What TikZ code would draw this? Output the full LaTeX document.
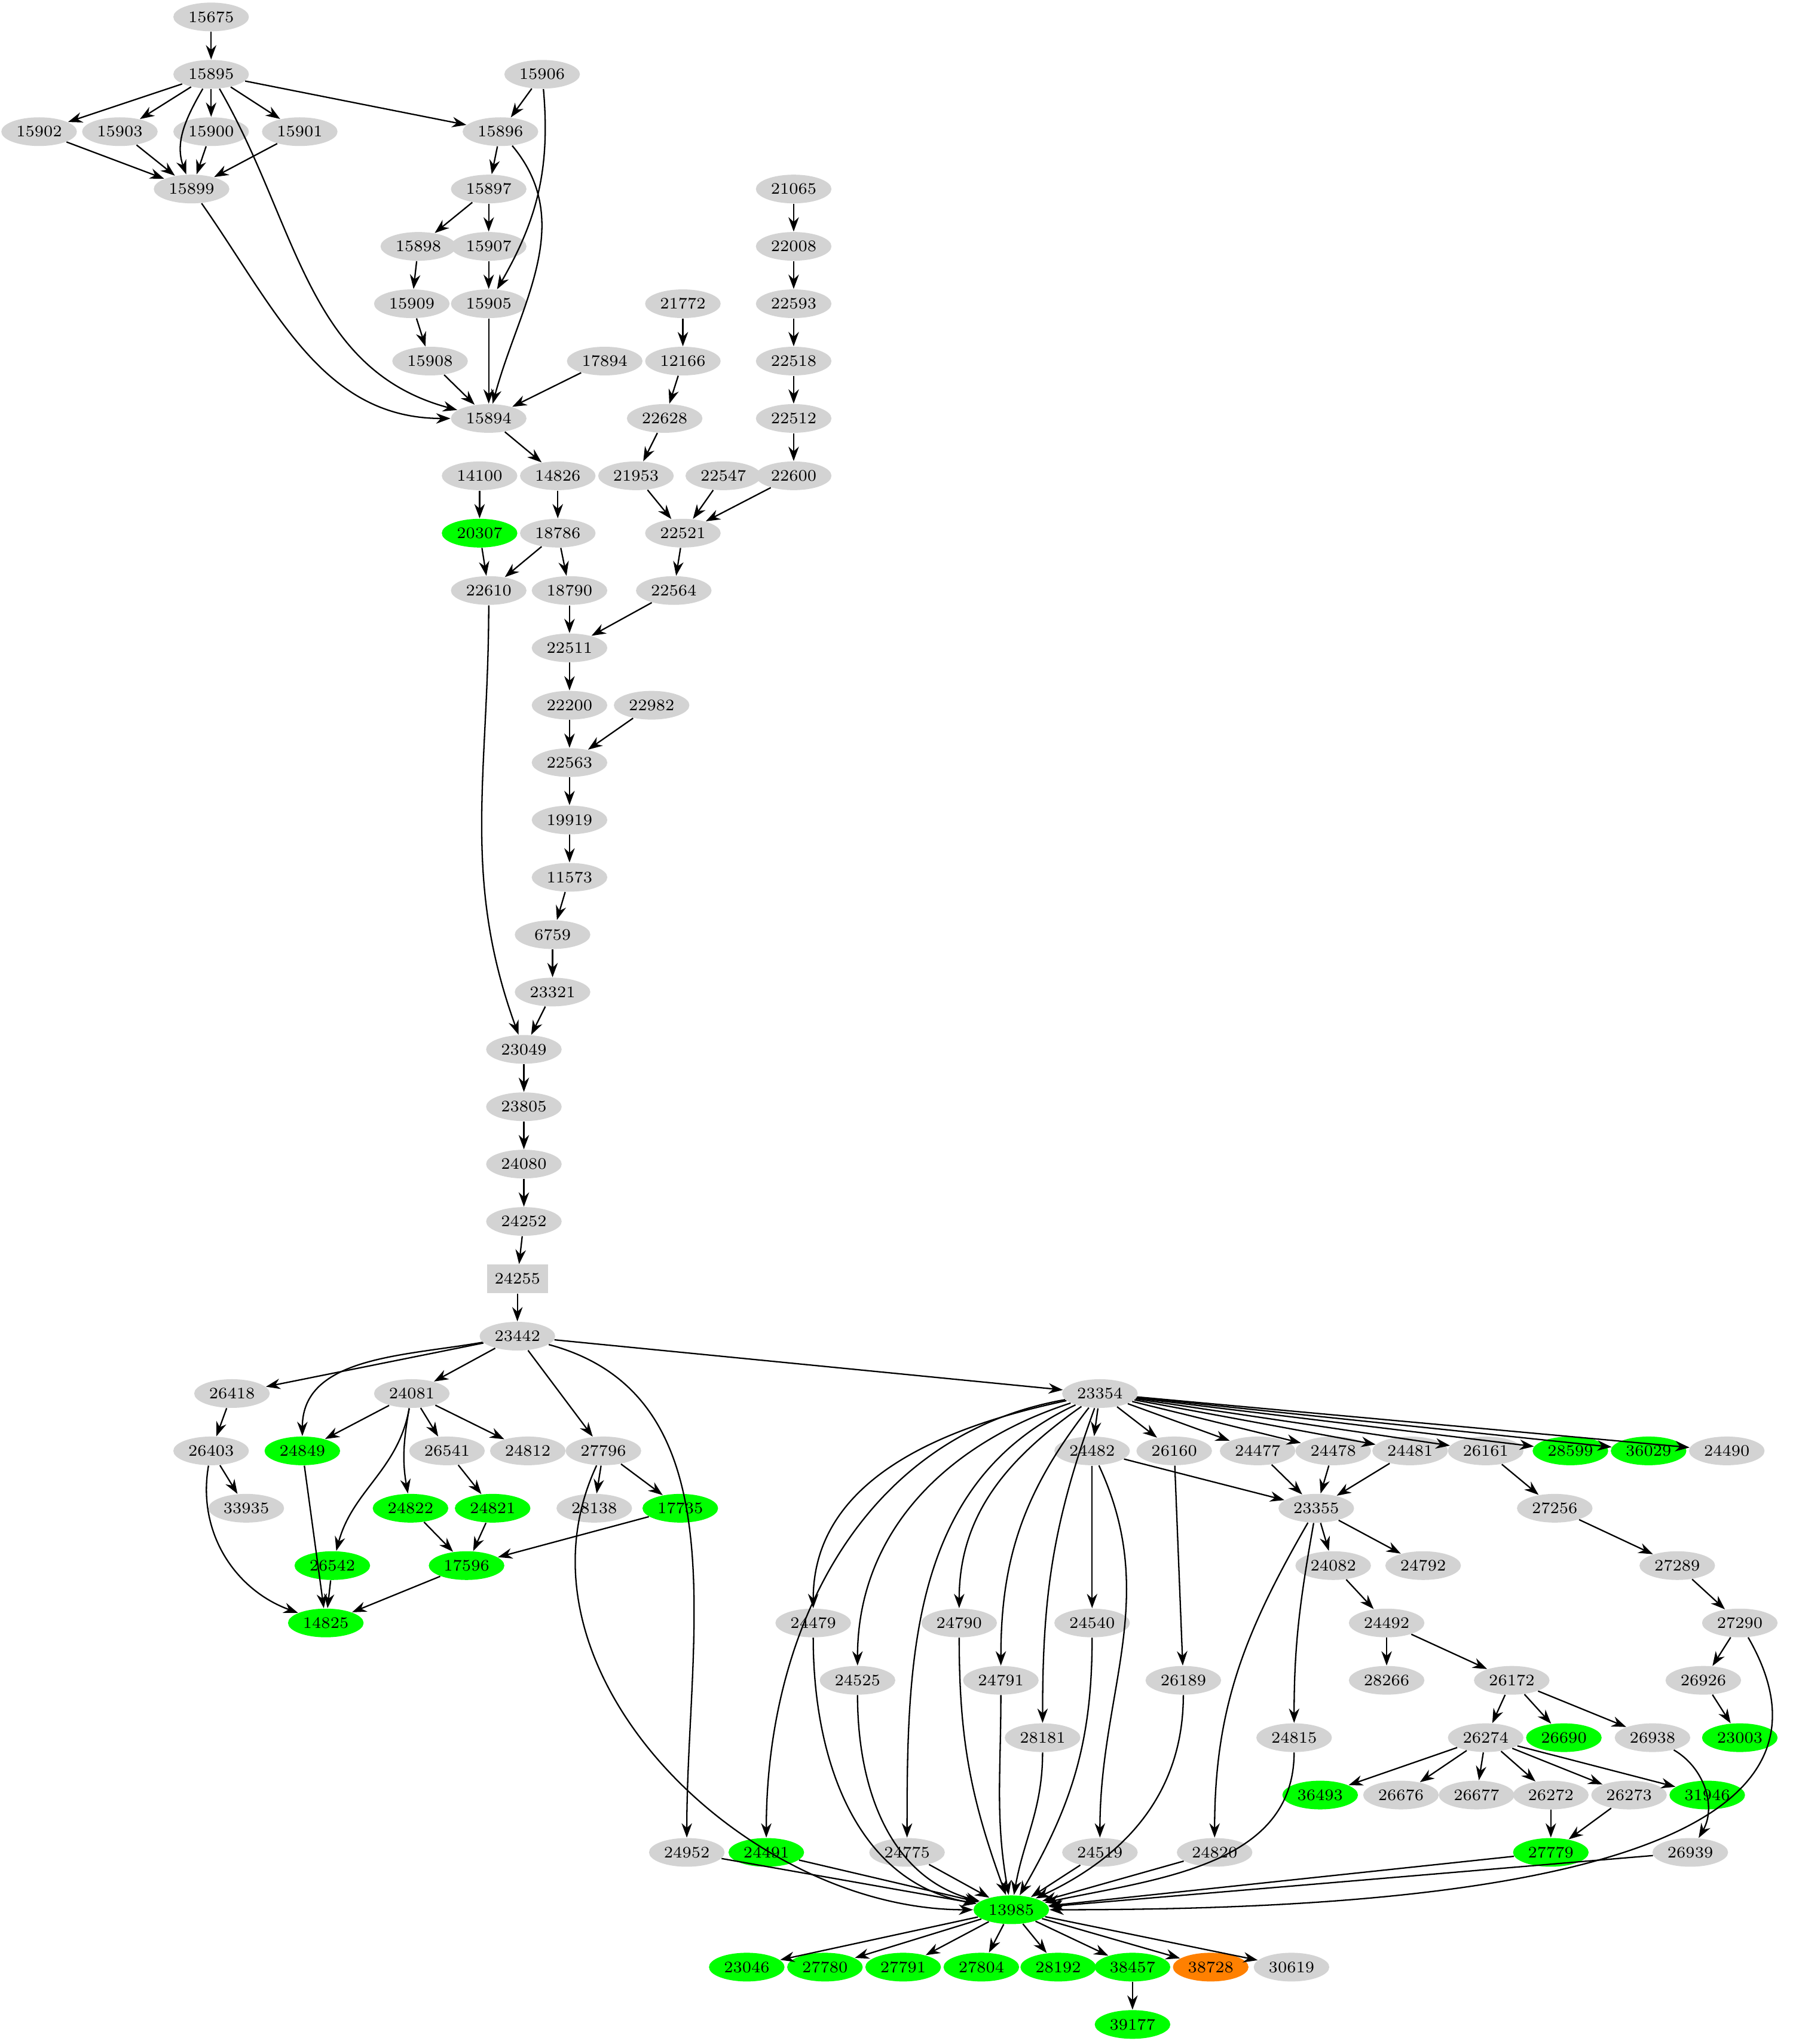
\documentclass[tikz,border=0pt]{standalone}
\usetikzlibrary{arrows.meta,shapes.geometric}
\definecolor{gv}{RGB}{211,211,211}
\tikzset{
  gnode/.style={ellipse,fill=gv,minimum width=1.16cm,minimum height=0.44cm,inner sep=0pt,font=\fontsize{7}{8}\selectfont},
  gr/.style={gnode,fill=green},
  edge/.style={-{Stealth[length=2.2mm,width=1.6mm]},semithick}
}
\begin{document}
\begin{tikzpicture}[x=0.02cm,y=-0.02cm]
\useasboundingbox (0,0) rectangle (1378,1568);
% grey nodes
\foreach \n/\x/\y in {15675/162/13,15895/162/57,15906/416/57,15902/30/101,15903/92/101,15900/162/101,15901/230/101,
  15896/384/101,15899/147/145,15897/375/145,21065/609/145,15898/321/189,15907/375/189,22008/609/189,
  15909/316/233,15905/375/233,21772/524/233,22593/609/233,15908/330/277,17894/464/277,12166/524/277,
  22518/609/277,15894/375/321,22628/510/321,22512/609/321,14100/368/365,14826/428/365,21953/488/365,
  22547/555/365,22600/609/365,18786/428/409,22521/524/409,22610/375/453,18790/437/453,22564/517/453,
  22511/437/497,22200/437/541,22982/500/541,22563/437/585,19919/437/629,11573/437/673,6759/424/717,
  23321/424/761,23049/402/805,23805/402/849,24080/402/893,24252/402/937,23442/397/1025,
  26418/178/1069,24081/316/1069,23354/844/1069,26403/162/1113,26541/343/1113,24812/405/1113,
  27796/463/1113,24482/838/1113,26160/901/1113,24477/965/1113,24478/1023/1113,24481/1082/1113,
  26161/1140/1113,24490/1325/1113,33935/189/1157,28138/456/1157,23355/1010/1157,27256/1193/1157,
  24082/1023/1201,24792/1092/1201,27289/1287/1201,24479/624/1245,24790/736/1245,24540/838/1245,
  24492/1064/1245,27290/1335/1245,24525/658/1289,24791/768/1289,26189/908/1289,28266/1064/1289,
  26172/1160/1289,26926/1307/1289,28181/800/1333,24815/993/1333,26274/1140/1333,26938/1268/1333,
  26676/1075/1377,26677/1133/1377,26272/1190/1377,26273/1250/1377,24952/527/1421,24775/696/1421,
  24519/844/1421,24820/932/1421,26939/1297/1421,30619/991/1509}
  \node[gnode] (n\n) at (\x,\y) {\n};
% green nodes
\foreach \n/\x/\y in {20307/368/409,24849/232/1113,28599/1205/1113,36029/1265/1113,24822/315/1157,
  24821/378/1157,17735/522/1157,26542/255/1201,17596/358/1201,14825/250/1245,26690/1200/1333,
  23003/1335/1333,36493/1013/1377,31946/1310/1377,24491/588/1421,27779/1190/1421,13985/776/1465,
  23046/573/1509,27780/633/1509,27791/693/1509,27804/753/1509,28192/812/1509,38457/869/1509,39177/869/1553}
  \node[gr] (n\n) at (\x,\y) {\n};
\node[gnode,fill=orange] (n38728) at (929,1509) {38728};
\node[rectangle,fill=gv,minimum width=0.76cm,minimum height=0.44cm,font=\fontsize{7}{8}\selectfont] (n24255) at (397,981) {24255};
% straight edges
\foreach \a/\b in {15675/15895,15895/15902,15895/15903,15895/15900,15895/15901,15895/15896,15906/15896,
  15902/15899,15903/15899,15900/15899,15901/15899,15896/15897,15897/15898,15897/15907,15898/15909,
  15909/15908,15908/15894,15907/15905,15905/15894,17894/15894,15894/14826,21065/22008,22008/22593,
  22593/22518,22518/22512,22512/22600,22600/22521,21772/12166,12166/22628,22628/21953,21953/22521,
  22547/22521,14100/20307,20307/22610,14826/18786,18786/22610,18786/18790,18790/22511,22521/22564,
  22564/22511,22511/22200,22200/22563,22982/22563,22563/19919,19919/11573,11573/6759,6759/23321,
  23321/23049,23049/23805,23805/24080,24080/24252,24252/24255,24255/23442,23442/26418,23442/24081,
  23442/27796,23442/23354,26418/26403,26403/33935,24081/24849,24081/26541,24081/24812,24849/14825,
  26541/24821,24822/17596,24821/17596,17735/17596,27796/28138,27796/17735,26542/14825,17596/14825,
  23354/24482,23354/26160,23354/24477,23354/24478,23354/24481,23354/26161,23354/28599,23354/36029,
  23354/24490,24482/24540,24482/23355,26160/26189,24477/23355,24478/23355,24481/23355,26161/27256,
  27256/27289,27289/27290,27290/26926,26926/23003,23355/24082,23355/24792,24082/24492,24492/28266,
  24492/26172,26172/26274,26172/26690,26172/26938,26274/36493,26274/26676,26274/26677,26274/26272,
  26274/26273,26274/31946,26272/27779,26273/27779,24952/13985,24491/13985,24775/13985,24519/13985,
  24820/13985,27779/13985,26939/13985,13985/23046,13985/27780,13985/27791,13985/27804,13985/28192,
  13985/38457,13985/38728,13985/30619,38457/39177}
  \draw[edge] (n\a) -- (n\b);
% curved edges
\foreach \a/\b/\o/\i in {15895/15899/-120/110,15895/15894/-60/165,15899/15894/-55/180,15896/15894/-50/75,
  15906/15905/-85/60,22610/23049/-90/110,23442/24849/190/90,23442/24952/-15/90,24081/26542/-100/75,
  24081/24822/-100/100,26403/14825/-100/160,27796/13985/-115/180,23354/24491/190/90,23354/24479/192/90,
  23354/24525/198/90,23354/24775/205/90,23354/24790/215/90,23354/24791/232/90,23354/28181/250/90,
  24482/24519/-65/90,23355/24820/-120/90,23355/24815/-100/90,26938/26939/-30/60,24479/13985/-90/170,
  24525/13985/-90/165,24790/13985/-90/110,24791/13985/-90/100,28181/13985/-90/80,24540/13985/-90/60,
  26189/13985/-90/25,24815/13985/-90/12,27290/13985/-60/0}
  \draw[edge] (n\a) to[out=\o,in=\i] (n\b);
\end{tikzpicture}
\end{document}
